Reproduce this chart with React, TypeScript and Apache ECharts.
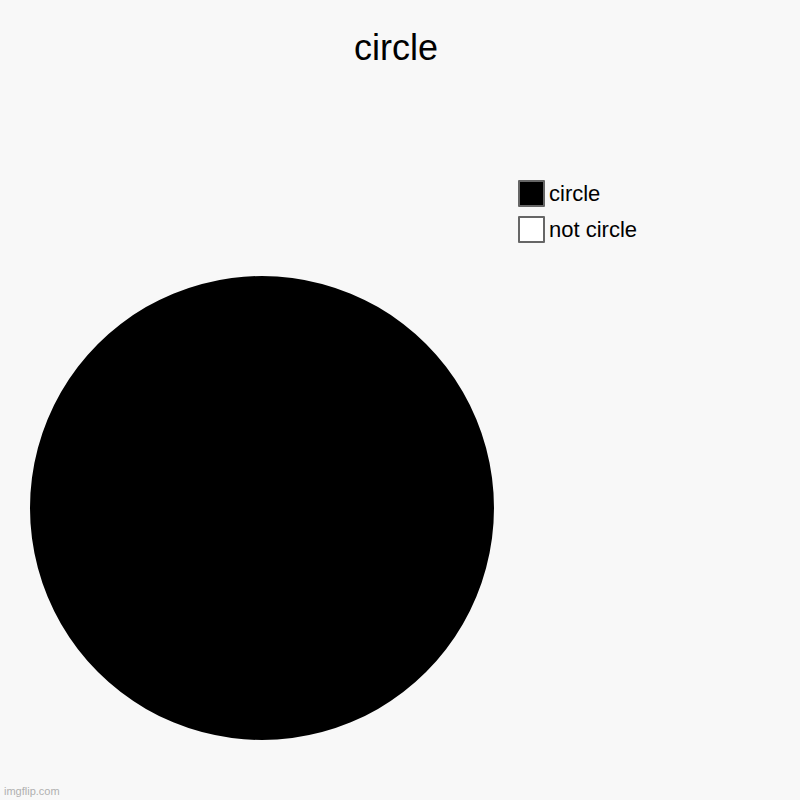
import { useEffect, useRef } from "react";
import * as echarts from "echarts";

const titleText = "circle";
const categories = ["circle", "not circle"];
const values = [100, 0];
const colors = ["#000000", "#ffffff"];

export default function App() {
  const chartRef = useRef<HTMLDivElement>(null);

  useEffect(() => {
    document.body.style.margin = "0";
    if (!chartRef.current) return;
    const myChart = echarts.init(chartRef.current, null, { renderer: "svg" });

    const option = {
      animation: false,
      backgroundColor: "#f8f8f8",
      title: {
        text: titleText,
        left: 349,
        top: 24,
        textStyle: {
          fontFamily: "Liberation Sans",
          fontSize: 36,
          fontWeight: "normal",
          color: "#000",
        },
      },
      legend: {
        orient: "vertical",
        left: 518,
        top: 180,
        padding: 0,
        itemWidth: 25,
        itemHeight: 25,
        itemGap: 9,
        icon: "rect",
        selectedMode: false,
        data: categories,
        itemStyle: { borderColor: "#666", borderWidth: 2 },
        textStyle: {
          fontFamily: "Liberation Sans",
          fontSize: 22,
          lineHeight: 25,
          color: "#000",
        },
      },
      graphic: [
        {
          type: "text",
          left: 4,
          top: 785,
          style: {
            text: "imgflip.com",
            font: "11px Liberation Sans",
            fill: "#b0b0b0",
          },
        },
      ],
      series: [
        {
          type: "pie",
          center: [262, 508],
          radius: 232,
          label: { show: false },
          labelLine: { show: false },
          emphasis: { disabled: true },
          silent: true,
          itemStyle: { borderWidth: 0 },
          data: categories.map((name, i) => ({
            name,
            value: values[i],
            itemStyle: { color: colors[i] },
          })),
        },
      ],
    };

    myChart.setOption(option);

    return () => {
      myChart.dispose();
    };
  }, []);

  return <div ref={chartRef} style={{ width: "800px", height: "800px" }} />;
}
